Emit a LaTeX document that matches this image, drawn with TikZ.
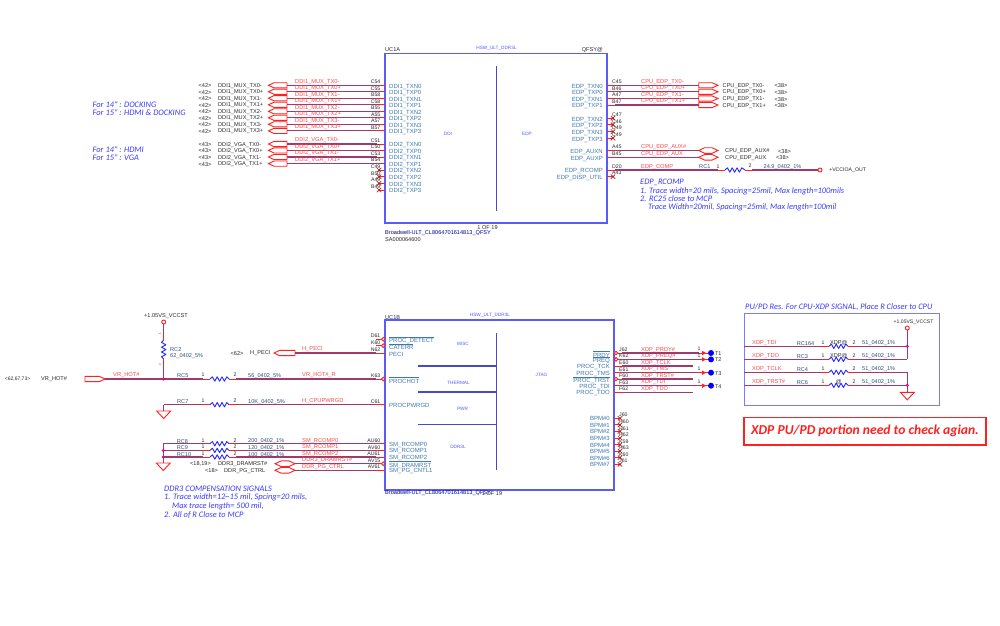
\documentclass[tikz,border=0pt]{standalone}
\usepackage{fontspec}
\setmainfont{Liberation Sans}
\newfontfamily\notefont{Carlito}
\definecolor{wirec}{HTML}{A03A6E}
\definecolor{pinred}{HTML}{FF2020}
\definecolor{netred}{HTML}{FF4A4A}
\definecolor{boxblue}{HTML}{5A5AFF}
\definecolor{pinblue}{HTML}{3F78B0}
\definecolor{txtc}{HTML}{2A2A2A}
\definecolor{noteblue}{HTML}{3A3AFF}
\newcount\nn
\newcommand\nxt{\global\advance\nn by 1\relax}
\tikzset{
 wire/.style={draw=wirec,line width=1.1pt},
 pinline/.style={draw=pinred,line width=0.9pt},
 rstub/.style={draw=pinred,line width=0.9pt},
 chipbox/.style={draw=boxblue,line width=1.6pt},
 sectline/.style={draw=boxblue!80!black,line width=1.1pt},
 offpage/.style={draw=pinred,line width=0.9pt},
 resist/.style={draw=blue!85!white,line width=0.9pt,line join=round},
 nc/.style={draw=pinred!70!black,line width=0.7pt},
 invcirc/.style={draw=pinred,line width=0.9pt,fill=white,circle,inner sep=0pt,minimum size=3.6pt},
 dotj/.style={fill=magenta,circle,inner sep=0pt,minimum size=3.4pt},
 tdot/.style={fill=blue,circle,inner sep=0pt,minimum size=6pt},
 vcc/.style={draw=pinred,line width=0.9pt,fill=white,circle,inner sep=0pt,minimum size=4pt},
 tx/.style={inner sep=0pt,text=txtc,font=\fontsize{5.6}{6}\selectfont},
 net/.style={inner sep=0pt,text=netred,font=\fontsize{5.7}{6}\selectfont},
 pinl/.style={inner sep=0pt,text=pinblue,font=\fontsize{6}{6}\selectfont},
 pinn/.style={inner sep=0pt,text=txtc,font=\fontsize{5.2}{6}\selectfont},
 tiny/.style={inner sep=0pt,text=boxblue,font=\fontsize{4.7}{5}\selectfont},
 rdes/.style={inner sep=0pt,text=pinblue!70!black,font=\fontsize{5.6}{6}\selectfont},
 note/.style={inner sep=0pt,text=noteblue,font=\notefont\itshape\fontsize{8.4}{9}\selectfont},
}
% generic helpers
\newcommand\tn[4]{\nxt\node[#1] (n\the\nn) at (#2,#3) {#4};}
\newcommand\seg[5]{\nxt\coordinate (a\the\nn) at (#2,#3);\coordinate (b\the\nn) at (#4,#5);\draw[#1] (a\the\nn) -- (b\the\nn);}
% connector shapes: left-pointing flag, right-pointing flag, double
\newcommand\flagL[3]{\draw[offpage] (#1,#3) -- ++(5.5,-2.6) -- (#2,#3-2.6) -- (#2,#3+2.6) -- (#1+5.5,#3+2.6) -- cycle;}
\newcommand\flagR[3]{\draw[offpage] (#2,#3) -- ++(-6,-2.6) -- (#1,#3-2.6) -- (#1,#3+2.6) -- (#2-6,#3+2.6) -- cycle;}
\newcommand\flagD[3]{\draw[offpage] (#1,#3) -- (#1+6,#3-2.8) -- (#2-6,#3-2.8) -- (#2,#3) -- (#2-6,#3+2.8) -- (#1+6,#3+2.8) -- cycle;}
% horizontal resistor from x1 to x2 at y
\newcommand\resH[3]{\draw[resist] (#1,#3) -- ++(2.4,-2.2) -- ++(2.4,4.4) -- ++(2.4,-4.4) -- ++(2.4,4.4) -- ++(2.4,-4.4) -- ++(2.4,4.4) -- ++(2.4,-4.4) -- (#2,#3);}
% no-connect cross
\newcommand\ncx[2]{\draw[nc] (#1-2.2,#2-2.2) -- (#1+2.2,#2+2.2) (#1-2.2,#2+2.2) -- (#1+2.2,#2-2.2);}
% ground triangle
\newcommand\gnd[2]{\draw[offpage] (#1-7,#2) -- (#1+7,#2) -- (#1,#2+7.5) -- cycle;}
\newcommand\ov[1]{$\overline{\mbox{#1}}$}
\begin{document}
\begin{tikzpicture}[x=1pt,y=-1pt]
\useasboundingbox (0,0) rectangle (1000,625);
\fill[white] (0,0) rectangle (1000,625);

%% ---------- UC1A ----------
\draw[chipbox] (385,53.3) rectangle (607,222.7);
\coordinate (ucAtop) at (496.7,66);\coordinate (ucAbot) at (496.7,210.7);
\draw[sectline] (ucAtop) -- (ucAbot);
\tn{tiny}{496.5}{48}{HSW\_ULT\_DDR3L}
\tn{tx,anchor=west}{385}{49.8}{UC1A}
\tn{tx,anchor=east}{603}{49.8}{QFSY@}
\tn{tiny}{448}{134}{DDI}
\tn{tiny}{527}{134}{EDP}
\tn{tx}{487.5}{227.2}{1 OF 19}
\tn{rdes,anchor=west,text=blue!60!black}{385}{233.2}{Broadwell-ULT\_CL8064701614813\_QFSY}
\tn{tx,anchor=west}{385}{239.8}{SA000064600}

% DDI1 rows
\foreach \y/\tag/\nm/\pn/\pl in {
 85.3/42/DDI1\_MUX\_TX0-/C54/DDI1\_TXN0,
 91.7/42/DDI1\_MUX\_TX0+/C55/DDI1\_TXP0,
 98.2/42/DDI1\_MUX\_TX1-/B58/DDI1\_TXN1,
 104.8/42/DDI1\_MUX\_TX1+/C58/DDI1\_TXP1,
 111.3/42/DDI1\_MUX\_TX2-/B55/DDI1\_TXN2,
 117.8/42/DDI1\_MUX\_TX2+/A55/DDI1\_TXP2,
 124.3/42/DDI1\_MUX\_TX3-/A57/DDI1\_TXN3,
 130.9/42/DDI1\_MUX\_TX3+/B57/DDI1\_TXP3,
 144/43/DDI2\_VGA\_TX0-/C51/DDI2\_TXN0,
 150.4/43/DDI2\_VGA\_TX0+/C50/DDI2\_TXP0,
 157/43/DDI2\_VGA\_TX1-/C53/DDI2\_TXN1,
 163.6/43/DDI2\_VGA\_TX1+/B54/DDI2\_TXP1}{
 \tn{tx}{205}{\y+0.6}{<\tag>}
 \tn{tx,anchor=west}{218}{\y+0.6}{\nm}
 \tn{net,anchor=west}{295}{\y-3.6}{\nm}
 \tn{pinn,anchor=east}{380.5}{\y-3.4}{\pn}
 \tn{pinl,anchor=west}{389}{\y+1.4}{\pl}
 \flagL{268.5}{287}{\y}
 \seg{wire}{287}{\y}{377}{\y}
 \seg{pinline}{377}{\y}{385}{\y}
}
% DDI2 no-connects
\foreach \y/\pn/\pl in {170/C49/DDI2\_TXN2,176.7/B50/DDI2\_TXP2,183.3/A49/DDI2\_TXN3,190/B49/DDI2\_TXP3}{
 \tn{pinn,anchor=east}{380.5}{\y-3.4}{\pn}
 \tn{pinl,anchor=west}{389}{\y+1.4}{\pl}
 \seg{pinline}{379}{\y}{385}{\y}
 \ncx{379}{\y}
}
% EDP connected pins
\foreach \y/\tg/\nm/\pn/\pl in {
 85.3/38/TX0-/C45/TXN0,
 91.8/38/TX0+/B46/TXP0,
 98.5/38/TX1-/A47/TXN1,
 105/38/TX1+/B47/TXP1}{
 \tn{pinl,anchor=east}{603}{\y+1.4}{EDP\_\pl}
 \tn{pinn,anchor=west}{612}{\y-3.4}{\pn}
 \tn{net,anchor=west}{641}{\y-3.6}{CPU\_EDP\_\nm}
 \seg{pinline}{607}{\y}{615}{\y}
 \seg{wire}{615}{\y}{698.7}{\y}
 \flagR{698.7}{718}{\y}
 \tn{tx,anchor=west}{722.5}{\y+0.7}{CPU\_EDP\_\nm}
 \tn{tx,anchor=west}{774.5}{\y+0.7}{<\tg>}
}
\foreach \y/\pn/\pl in {118.2/C47/TXN2,124.7/C46/TXP2,131.5/D49/TXN3,138.2/C49/TXP3}{
 \tn{pinl,anchor=east}{603}{\y+1.4}{EDP\_\pl}
 \tn{pinn,anchor=west}{612}{\y-3.4}{\pn}
 \seg{pinline}{607}{\y}{613}{\y}
 \ncx{613}{\y}
}
\foreach \y/\pn/\pl/\nm/\lx/\tgx in {150.5/A45/AUXN/AUX\#/725/778,157.3/B45/AUXP/AUX/725/776}{
 \tn{pinl,anchor=east}{603}{\y+1.4}{EDP\_\pl}
 \tn{pinn,anchor=west}{612}{\y-3.4}{\pn}
 \tn{net,anchor=west}{641}{\y-3.6}{CPU\_EDP\_\nm}
 \seg{pinline}{607}{\y}{615}{\y}
 \seg{wire}{615}{\y}{698.7}{\y}
 \flagD{698.7}{718}{\y}
 \tn{tx,anchor=west}{\lx}{\y+0.7}{CPU\_EDP\_\nm}
 \tn{tx,anchor=west}{\tgx}{\y+0.7}{<38>}
}
% EDP_COMP
\tn{pinl,anchor=east}{603}{171.2}{EDP\_RCOMP}
\tn{pinl,anchor=east}{603}{177.6}{EDP\_DISP\_UTIL}
\tn{pinn,anchor=west}{612}{166.6}{D20}
\tn{pinn,anchor=west}{612}{173.2}{A43}
\seg{pinline}{607}{170}{615}{170}
\seg{pinline}{607}{176.7}{613}{176.7}
\ncx{613}{176.7}
\tn{net,anchor=west}{641}{166.6}{EDP\_COMP}
\tn{rdes,anchor=west}{699}{167}{RC1}
\tn{pinn}{718}{166.5}{1}
\tn{pinn}{750}{166}{2}
\tn{rdes,anchor=west}{763.5}{167}{24.9\_0402\_1\%}
\seg{wire}{615}{170}{718}{170}
\seg{rstub}{718}{170}{725}{170}
\resH{725}{745}{170}
\seg{rstub}{745}{170}{752}{170}
\seg{wire}{752}{170}{818}{170}
\node[vcc] (vccioa) at (820,170) {};
\tn{tx,anchor=west,font=\fontsize{5.2}{6}\selectfont}{829}{170.5}{+VCCIOA\_OUT}
\tn{note,anchor=west}{640}{182}{EDP\_RCOMP}
\tn{note,anchor=west}{640}{191}{1. Trace width=20 mils, Spacing=25mil, Max length=100mils}
\tn{note,anchor=west}{640}{199}{2. RC25 close to MCP}
\tn{note,anchor=west}{648}{207.4}{Trace Width=20mil, Spacing=25mil, Max length=100mil}
\tn{note,anchor=west}{92.5}{104.3}{For 14" : DOCKING}
\tn{note,anchor=west}{92.5}{112.7}{For 15" : HDMI \& DOCKING}
\tn{note,anchor=west}{92.5}{149.3}{For 14" : HDMI}
\tn{note,anchor=west}{92.5}{157.5}{For 15" : VGA}

%% ---------- UC1B ----------
\draw[chipbox] (385,320) rectangle (614,490);
\coordinate (sT) at (496.7,333);\coordinate (sB) at (496.7,470);
\draw[sectline] (sT) -- (sB);
\foreach \y in {366,392,424.7}{\seg{sectline}{417.7}{\y}{496.7}{\y}}
\tn{tiny}{490}{315}{HSW\_ULT\_DDR3L}
\tn{tx,anchor=west}{385}{317.5}{UC1B}
\tn{tiny}{463}{343.5}{MISC}
\tn{tiny}{458.5}{383}{THERMAL}
\tn{tiny}{462.5}{409}{PWR}
\tn{tiny}{458}{447}{DDR3L}
\tn{tiny}{541.5}{375}{JTAG}
\tn{rdes,anchor=west,text=blue!60!black}{385}{493.4}{Broadwell-ULT\_CL8064701614813\_QFSY}
\tn{tx}{492}{493.4}{1 OF 19}

% left pins of UC1B
\foreach \y/\pl/\pn in {353/PECI/N62,404.7/PROCPWRGD/C61,443.7/SM\_RCOMP0/AU60,450.4/SM\_RCOMP1/AV60,457/SM\_RCOMP2/AU61,470.3/SM\_PG\_CNTL1/AV61}{
 \seg{pinline}{376}{\y}{385}{\y}
 \tn{pinl,anchor=west}{389}{\y+1}{\pl}
 \tn{pinn,anchor=east}{380.5}{\y-3.2}{\pn}
}
\foreach \y/\pl/\pn in {339.2/PROC\_DETECT/D61,345.7/CATERR/K60,379/PROCHOT/K63,463.7/SM\_DRAMRST/AV15}{
 \seg{pinline}{376}{\y}{382}{\y}
 \tn{invcirc}{383.3}{\y}{}
 \tn{pinl,anchor=west}{389}{\y+1}{\ov{\pl}}
 \tn{pinn,anchor=east}{380.5}{\y-3.2}{\pn}
}
% H_PECI
\flagL{274}{295}{353}
\seg{wire}{295}{353}{376}{353}
\tn{tx}{237}{353.3}{<62>}
\tn{tx,anchor=west}{250}{353.3}{H\_PECI}
\tn{net,anchor=west}{302}{349.4}{H\_PECI}
% VR_HOT
\flagR{85}{105.3}{379}
\tn{tx,anchor=west,font=\fontsize{5}{6}\selectfont}{4.7}{379.2}{<62,67,73>}
\tn{tx,anchor=west}{41}{379.2}{VR\_HOT\#}
\tn{net,anchor=west}{113}{375.4}{VR\_HOT\#}
\seg{wire}{105.3}{379}{203}{379}
\seg{rstub}{203}{379}{210}{379}
\resH{210}{229}{379}
\seg{rstub}{229}{379}{236}{379}
\seg{wire}{236}{379}{376}{379}
\tn{rdes,anchor=west}{177}{376}{RC5}
\tn{pinn}{203}{375}{1}
\tn{pinn}{235}{375}{2}
\tn{rdes,anchor=west}{248}{376}{56\_0402\_5\%}
\tn{net,anchor=west}{302}{375.2}{VR\_HOT\#\_R}
% RC2 and rail
\node[vcc] (vccA) at (163.7,322) {};
\tn{tx}{166}{316.5}{+1.05VS\_VCCST}
\seg{wire}{163.7}{324}{163.7}{333}
\seg{rstub}{163.7}{333}{163.7}{340}
\draw[resist] (163.7,340) -- ++(-2.2,2.4) -- ++(4.4,2.4) -- ++(-4.4,2.4) -- ++(4.4,2.4) -- ++(-4.4,2.4) -- ++(4.4,2.4) -- ++(-4.4,2.4) -- (163.7,359);
\seg{rstub}{163.7}{359}{163.7}{365}
\seg{wire}{163.7}{365}{163.7}{379}
\node[dotj] (jA) at (163.7,379) {};
\tn{tx,font=\fontsize{2.8}{3}\selectfont,rotate=90}{160}{333.5}{1}
\tn{tx,font=\fontsize{2.8}{3}\selectfont,rotate=90}{160}{365}{2}
\tn{rdes,anchor=west}{170}{349.3}{RC2}
\tn{rdes,anchor=west}{170}{356.3}{62\_0402\_5\%}
% RC7
\seg{wire}{163.7}{404.7}{203}{404.7}
\seg{rstub}{203}{404.7}{210}{404.7}
\resH{210}{229}{404.7}
\seg{rstub}{229}{404.7}{236}{404.7}
\seg{wire}{236}{404.7}{376}{404.7}
\seg{wire}{163.7}{404.7}{163.7}{411}
\gnd{163.7}{411}
\tn{rdes,anchor=west}{177}{402}{RC7}
\tn{pinn}{203}{401}{1}
\tn{pinn}{235}{401}{2}
\tn{rdes,anchor=west}{248}{402}{10K\_0402\_5\%}
\tn{net,anchor=west}{302}{401}{H\_CPUPWRGD}
% RC8..10
\foreach \y/\rc/\val/\nm in {443.7/RC8/200/SM\_RCOMP0,450.4/RC9/120/SM\_RCOMP1,457/RC10/100/SM\_RCOMP2}{
 \seg{wire}{163.3}{\y}{203}{\y}
 \seg{rstub}{203}{\y}{210}{\y}
 \resH{210}{229}{\y}
 \seg{rstub}{229}{\y}{236}{\y}
 \seg{wire}{236}{\y}{376}{\y}
 \tn{rdes,anchor=west}{176.7}{\y-2.5}{\rc}
 \tn{pinn}{203}{\y-3.4}{1}
 \tn{pinn}{235}{\y-3.4}{2}
 \tn{rdes,anchor=west}{248}{\y-2.2}{\val\_0402\_1\%}
 \tn{net,anchor=west}{302}{\y-3}{\nm}
}
\seg{wire}{163.3}{443.7}{163.3}{463}
\gnd{163.3}{463}
\node[dotj] (jB) at (163.3,450.4) {};
\node[dotj] (jC) at (163.3,457) {};
% DDR3 connectors
\foreach \y/\tg/\tgx/\nm/\nx in {463.7/{<18,19>}/200.5/DDR3\_DRAMRST\#/218,470.3/{<18>}/211.5/DDR\_PG\_CTRL/224}{
 \flagD{275}{295}{\y}
 \seg{wire}{295}{\y}{376}{\y}
 \tn{tx}{\tgx}{\y+0.4}{\tg}
 \tn{tx,anchor=west}{\nx}{\y+0.6}{\nm}
 \tn{net,anchor=west}{302}{\y-3.2}{\nm}
}
\tn{note,anchor=west}{164}{489}{DDR3 COMPENSATION SIGNALS}
\tn{note,anchor=west}{164}{497.4}{1. Trace width=12\textasciitilde15 mil, Spcing=20 mils,}
\tn{note,anchor=west}{172}{506}{Max trace length= 500 mil,}
\tn{note,anchor=west}{164}{514.8}{2. All of R Close to MCP}

% right JTAG pins
\foreach \y/\pl/\pn/\nm in {353/\ov{PRDY}/J62/XDP\_PRDY\#,359.4/\ov{PREQ}/K62/XDP\_PREQ\#,379/\ov{PROC\_TRST}/F60/XDP\_TRST\#}{
 \tn{invcirc}{616}{\y}{}
 \seg{pinline}{618}{\y}{622}{\y}
 \tn{pinl,anchor=east}{610}{\y+1}{\pl}
 \tn{pinn,anchor=west}{619}{\y-3.3}{\pn}
 \tn{net,anchor=west}{641}{\y-3.3}{\nm}
}
\foreach \y/\pl/\pn/\nm in {366/PROC\_TCK/E60/XDP\_TCLK,372.7/PROC\_TMS/E61/XDP\_TMS,385.7/PROC\_TDI/F63/XDP\_TDI,392.3/PROC\_TDO/F62/XDP\_TDO}{
 \seg{pinline}{614}{\y}{622}{\y}
 \tn{pinl,anchor=east}{610}{\y+1}{\pl}
 \tn{pinn,anchor=west}{619}{\y-3.3}{\pn}
 \tn{net,anchor=west}{641}{\y-3.3}{\nm}
}
\foreach \y in {366,379,392.3}{\seg{wire}{622}{\y}{692.7}{\y}}
\foreach \y/\T in {353/T1,359.4/T2,372.7/T3,385.7/T4}{
 \seg{wire}{622}{\y}{699}{\y}
 \seg{rstub}{699}{\y}{708}{\y}
 \draw[fill=pinred,draw=none] (702,\y-2.2) -- (706,\y) -- (702,\y+2.2) -- cycle;
 \node[tdot] (\T) at (711,\y) {};
 \tn{pinn}{699}{\y-3.8}{1}
 \tn{tx,anchor=west,font=\fontsize{5.4}{6}\selectfont}{714.8}{\y+0.6}{\T}
}
% BPM pins
\foreach \i/\y/\pn in {0/418.3/J60,1/424.9/H60,2/431.4/H61,3/438/H62,4/444.6/K59,5/451.1/H63,6/457.7/K60,7/464.3/J61}{
 \seg{pinline}{614}{\y}{620}{\y}
 \ncx{620}{\y}
 \tn{pinl,anchor=east}{610}{\y+0.4}{BPM\#\i}
 \tn{pinn,anchor=west}{619}{\y-3.2}{\pn}
}

%% ---------- XDP PU/PD box ----------
\draw[draw=boxblue!80,line width=0.9pt] (744,313.3) rectangle (939.7,405);
\tn{note,anchor=west}{745}{306.7}{PU/PD Res. For CPU-XDP SIGNAL, Place R Closer to CPU}
\node[vcc] (vccB) at (907.3,328) {};
\tn{tx,anchor=east,font=\fontsize{5.1}{6}\selectfont}{933.7}{322}{+1.05VS\_VCCST}
\foreach \y/\nm/\rc/\rl in {346.3/XDP\_TDI/RC164/XDP@,359.3/XDP\_TDO/RC3/XDP@,372.3/XDP\_TCLK/RC4/{},385.3/XDP\_TRST\#/RC6/@}{
 \seg{wire}{744}{\y}{822}{\y}
 \seg{rstub}{822}{\y}{829}{\y}
 \resH{829}{848}{\y}
 \seg{rstub}{848}{\y}{855}{\y}
 \seg{wire}{855}{\y}{907.3}{\y}
 \tn{net,anchor=west}{752}{\y-3.2}{\nm}
 \tn{rdes,anchor=west}{796.7}{\y-3}{\rc}
 \tn{pinn}{823}{\y-3.4}{1}
 \tn{pinn}{854}{\y-3.6}{2}
 \tn{rdes,anchor=west}{862}{\y-3}{51\_0402\_1\%}
 \tn{tx}{838.7}{\y-3}{\rl}
}
\seg{wire}{907.3}{330}{907.3}{359.3}
\seg{wire}{907.3}{372.3}{907.3}{392.3}
\gnd{907.3}{392.3}
\node[dotj] (jD) at (907.3,346.3) {};
\node[dotj] (jE) at (907.3,385.3) {};
% warning
\node[draw=pinred,line width=1.2pt,inner sep=0pt,minimum width=242pt,minimum height=27.3pt,text=pinred,font=\notefont\bfseries\itshape\fontsize{13.6}{15}\selectfont] (warn) at (865,431.3) {XDP PU/PD portion need to check agian.};
\end{tikzpicture}
\end{document}
